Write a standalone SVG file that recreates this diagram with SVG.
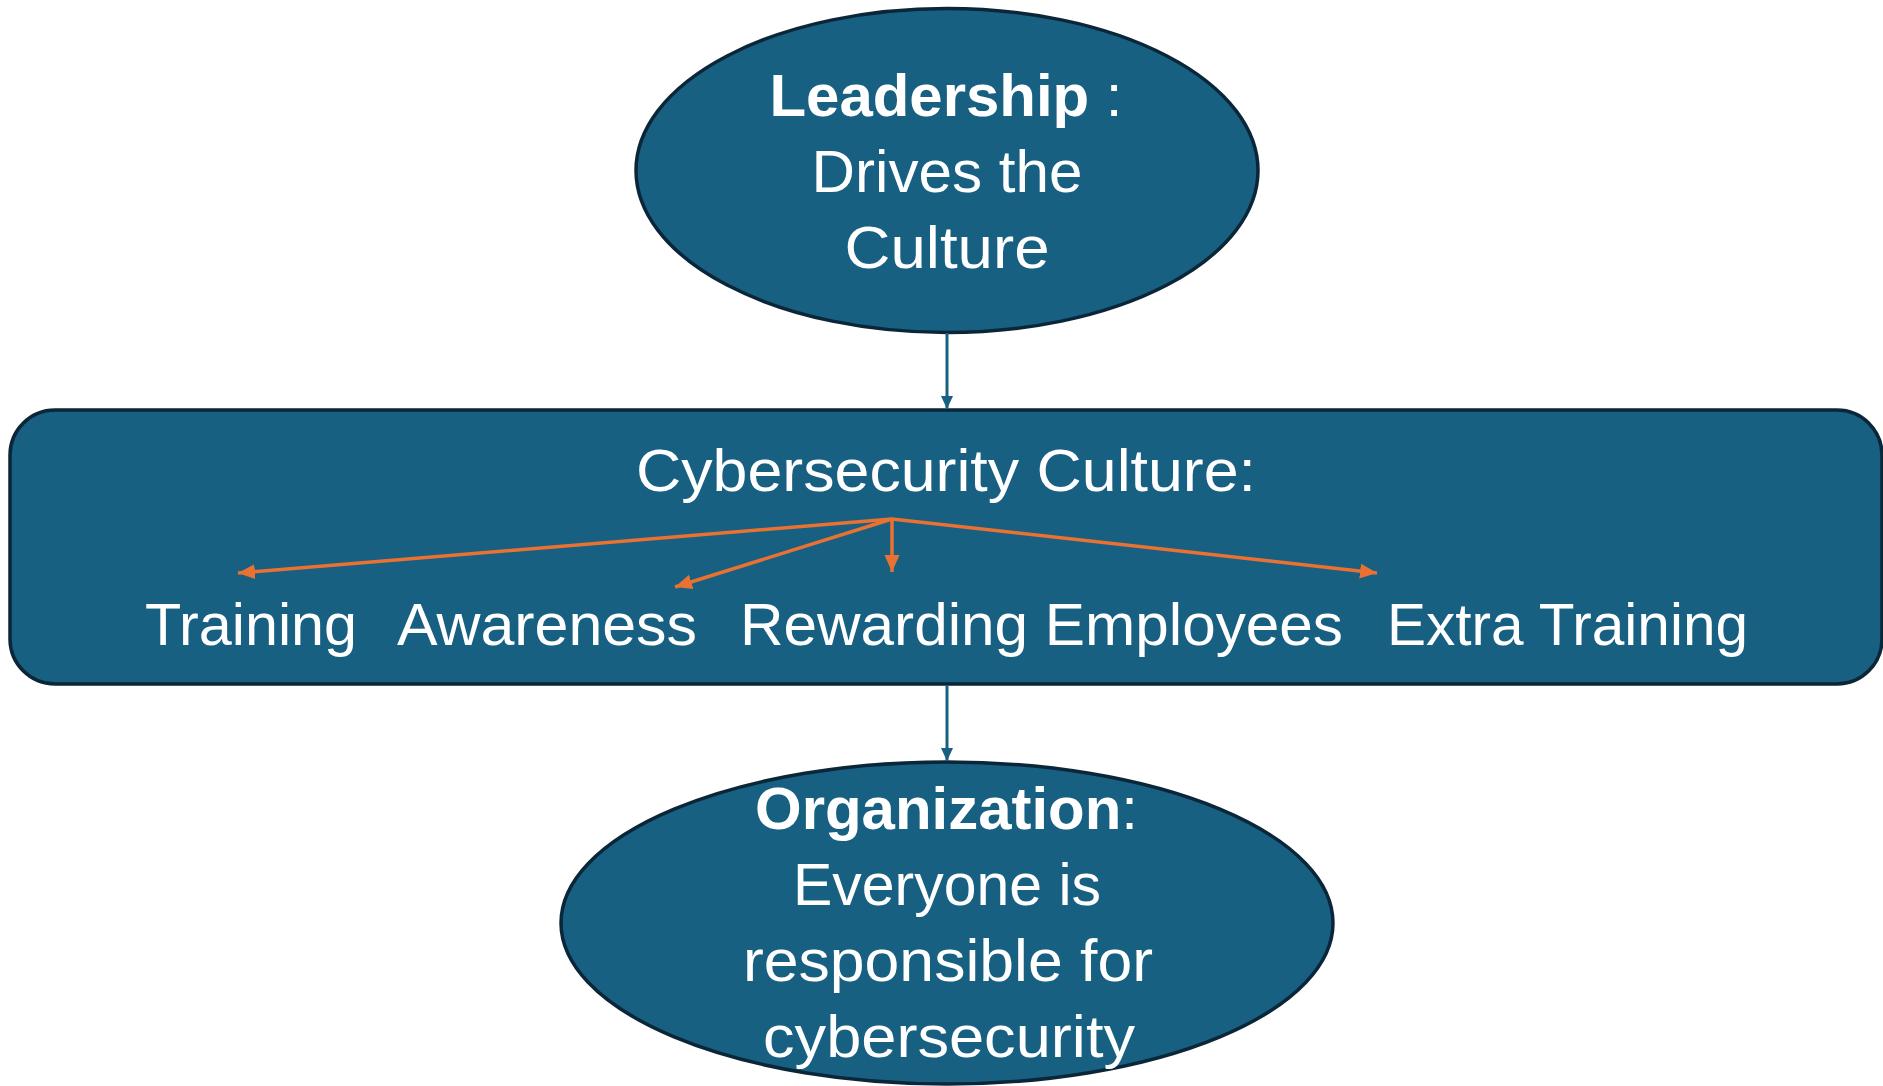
<svg xmlns="http://www.w3.org/2000/svg" width="1883" height="1086" viewBox="0 0 1883 1086">
<style>
.node{fill:#176082;stroke:#0b2638;stroke-width:3.5}
.t{font-family:"Liberation Sans","Arial",sans-serif;font-size:60px;fill:#ffffff;text-anchor:middle}
.b{font-weight:bold}
.blue{stroke:#176082;stroke-width:3;fill:none}
.orange{stroke:#e97132;stroke-width:3.5;fill:none}
</style>
<defs>
<marker id="ab" markerUnits="userSpaceOnUse" markerWidth="14" markerHeight="14" refX="13" refY="6" orient="auto"><path d="M0,0 L13,6 L0,12 z" fill="#176082"/></marker>
<marker id="ao" markerUnits="userSpaceOnUse" markerWidth="18" markerHeight="16" refX="17" refY="7.5" orient="auto"><path d="M0,0 L17,7.5 L0,15 z" fill="#e97132"/></marker>
</defs>
<g id="leadership">
<ellipse class="node" cx="947" cy="170.5" rx="311" ry="162"/>
<text class="t" x="946" y="116" textLength="353" lengthAdjust="spacingAndGlyphs"><tspan class="b">Leadership</tspan> :</text>
<text class="t" x="947" y="192" textLength="271" lengthAdjust="spacingAndGlyphs">Drives the</text>
<text class="t" x="947" y="268" textLength="205" lengthAdjust="spacingAndGlyphs">Culture</text>
</g>
<g id="culture">
<rect class="node" x="10" y="410" width="1872" height="274" rx="45" ry="45"/>
<text class="t" x="946" y="491" textLength="620" lengthAdjust="spacingAndGlyphs">Cybersecurity Culture:</text>
<text class="t" x="251" y="645" textLength="212" lengthAdjust="spacingAndGlyphs">Training</text>
<text class="t" x="547" y="645" textLength="300" lengthAdjust="spacingAndGlyphs">Awareness</text>
<text class="t" x="1041.5" y="645" textLength="603" lengthAdjust="spacingAndGlyphs">Rewarding Employees</text>
<text class="t" x="1567.5" y="645" textLength="361" lengthAdjust="spacingAndGlyphs">Extra Training</text>
</g>
<g id="organization">
<ellipse class="node" cx="947" cy="923" rx="386" ry="161"/>
<text class="t" x="946.5" y="829" textLength="383" lengthAdjust="spacingAndGlyphs"><tspan class="b">Organization</tspan>:</text>
<text class="t" x="947" y="905" textLength="308" lengthAdjust="spacingAndGlyphs">Everyone is</text>
<text class="t" x="948" y="981" textLength="410" lengthAdjust="spacingAndGlyphs">responsible for</text>
<text class="t" x="949" y="1057" textLength="372" lengthAdjust="spacingAndGlyphs">cybersecurity</text>
</g>
<g id="connectors">
<line class="blue" x1="947" y1="333" x2="947" y2="409" marker-end="url(#ab)"/>
<line class="blue" x1="947" y1="685" x2="947" y2="761" marker-end="url(#ab)"/>
<line class="orange" x1="892" y1="519" x2="238" y2="573" marker-end="url(#ao)"/>
<line class="orange" x1="892" y1="519" x2="675" y2="587" marker-end="url(#ao)"/>
<line class="orange" x1="892" y1="519" x2="892" y2="572" marker-end="url(#ao)"/>
<line class="orange" x1="892" y1="519" x2="1377" y2="573" marker-end="url(#ao)"/>
</g>
</svg>
